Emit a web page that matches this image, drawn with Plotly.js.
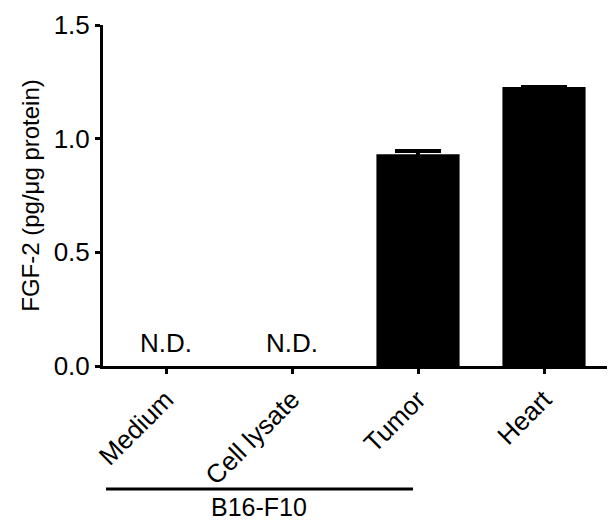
<!DOCTYPE html>
<html>
<head>
<meta charset="utf-8">
<script src="https://cdn.plot.ly/plotly-3.0.1.min.js"></script>
<style>html,body{margin:0;padding:0;background:#fff;}#chart{width:608px;height:523px;}</style>
</head>
<body>
<div id="chart"></div>
<script>
const categories = ["Medium", "Cell lysate", "Tumor", "Heart"];
const values = [null, null, 0.931, 1.227];
const errors = [0, 0, 0.015, 0];
const ndLabels = ["N.D.", "N.D.", "", ""];
const yTicks = [0, 0.5, 1.0, 1.5];
const groupLabel = "B16-F10";
const groupStart = "Medium";
const groupEnd = "Tumor";

const FONT = "Arial, 'Liberation Sans', sans-serif";

const trace = {
  type: "bar",
  x: categories,
  y: values,
  width: 0.66,
  marker: {color: "#000000", line: {width: 0}},
  error_y: {type: "data", array: errors, visible: true, color: "#000000", thickness: 4, width: 23},
  hoverinfo: "skip"
};

const annotations = [];
categories.forEach((c, i) => {
  if (ndLabels[i]) {
    annotations.push({x: c, y: 0, xref: "x", yref: "y", text: ndLabels[i], showarrow: false,
      yanchor: "bottom", yshift: 6, font: {family: FONT, size: 26, color: "#000"}});
  }
});
annotations.push({x: 0.74, y: -0.458, xref: "x", yref: "paper", text: groupLabel, showarrow: false,
  yanchor: "bottom", borderpad: 0, font: {family: FONT, size: 25, color: "#000"}});

const gi0 = categories.indexOf(groupStart), gi1 = categories.indexOf(groupEnd);

const layout = {
  width: 608, height: 523,
  margin: {l: 103, r: 1, t: 25, b: 157},
  paper_bgcolor: "#fff", plot_bgcolor: "#fff",
  showlegend: false,
  font: {family: FONT, color: "#000"},
  bargap: 0.34,
  xaxis: {
    type: "category", range: [-0.5, 3.5], fixedrange: true,
    showline: true, linewidth: 3, linecolor: "#000",
    ticks: "outside", ticklen: 5, tickwidth: 3, tickcolor: "#000",
    tickangle: -45, tickfont: {family: FONT, size: 26, color: "#000"},
    showgrid: false, zeroline: false
  },
  yaxis: {
    range: [0, 1.5], tickvals: yTicks, tickformat: ".1f",
    showline: true, linewidth: 3, linecolor: "#000",
    ticks: "outside", ticklen: 5, tickwidth: 3, tickcolor: "#000",
    tickfont: {family: FONT, size: 26, color: "#000"},
    showgrid: false, zeroline: false,
    title: {text: "FGF-2 (pg/μg protein)", font: {family: FONT, size: 24, color: "#000"}, standoff: 8}
  },
  shapes: [{type: "line", xref: "x", yref: "paper", x0: gi0 - 0.476, x1: gi1 - 0.04, y0: -0.361, y1: -0.361,
    line: {color: "#000", width: 3}}],
  annotations: annotations
};

Plotly.newPlot("chart", [trace], layout, {displayModeBar: false, staticPlot: true});
</script>
</body>
</html>
